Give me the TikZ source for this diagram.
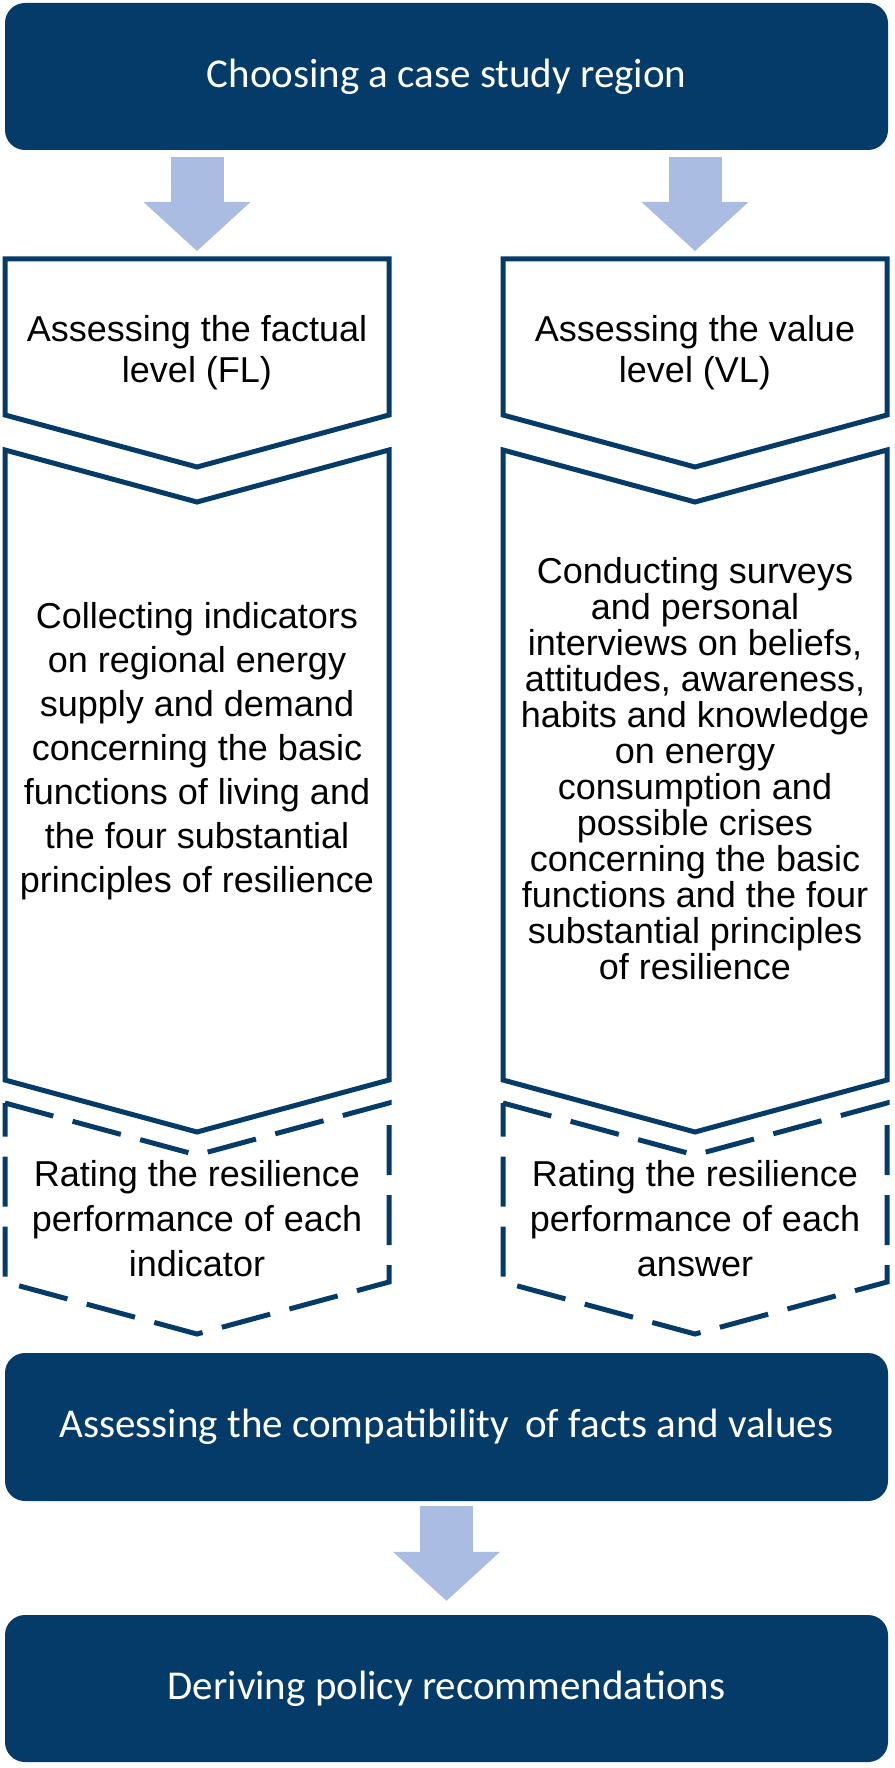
\documentclass[tikz,border=0pt]{standalone}
\usepackage{fontspec}
\setmainfont{Liberation Sans}
\newfontfamily\boxfont{Carlito}
\usetikzlibrary{arrows.meta,calc}
\definecolor{DeepNavy}{HTML}{043B69}
\definecolor{PaleBlue}{HTML}{AABCE1}

\begin{document}
\begin{tikzpicture}[x=1pt, y=-1pt,
  stagebox/.style={fill=DeepNavy, rounded corners=20pt, minimum width=883pt, minimum height=147pt, text=white, font=\boxfont\fontsize{41}{49}\selectfont},
  steptext/.style={align=center, text=black, font=\fontsize{36}{41}\selectfont},
  chev/.style={draw=DeepNavy, line width=5pt},
  chevdash/.style={chev, dash pattern=on 50pt off 20pt},
  bigarrow/.style={color=PaleBlue, line width=53pt, -{Triangle[length=49pt, width=107pt, line width=0pt]}}]
  \useasboundingbox (0,0) rectangle (894,1768);

  % top and bottom stages
  \node[stagebox] (case) at (446.5,76.5) {Choosing a case study region};
  \node[stagebox, minimum height=148pt] (compat) at (446.5,1427) {Assessing the compatibility\, of facts and values};
  \node[stagebox] (policy) at (446.5,1688.5) {Deriving policy recommendations};

  % factual level column
  \draw[chev] (5,259) -- (389,259) -- (389,415) -- (197,467) -- (5,415) -- cycle;
  \draw[chev] (5,450) -- (197,502) -- (389,450) -- (389,1080) -- (197,1132) -- (5,1080) -- cycle;
  \draw[chevdash] (5,1103) -- (197,1155) -- (389,1103) -- (389,1282) -- (197,1334) -- (5,1282) -- cycle;
  \coordinate (flTop) at (197,259);
  \node[steptext] (flhead) at (197,353) {Assessing the factual\\level (FL)};
  \node[steptext, font=\fontsize{36}{44}\selectfont] (flcollect) at (197,751) {Collecting indicators\\on regional energy\\supply and demand\\concerning the basic\\functions of living and\\the four substantial\\principles of resilience};
  \node[steptext, font=\fontsize{36}{45}\selectfont] (flrate) at (197,1219) {Rating the resilience\\performance of each\\indicator};

  % value level column
  \draw[chev] (503,259) -- (887,259) -- (887,415) -- (695,467) -- (503,415) -- cycle;
  \draw[chev] (503,450) -- (695,502) -- (887,450) -- (887,1080) -- (695,1132) -- (503,1080) -- cycle;
  \draw[chevdash] (503,1103) -- (695,1155) -- (887,1103) -- (887,1282) -- (695,1334) -- (503,1282) -- cycle;
  \coordinate (vlTop) at (695,259);
  \node[steptext] (vlhead) at (695,353) {Assessing the value\\level (VL)};
  \node[steptext, font=\fontsize{36}{36}\selectfont] (vlsurvey) at (695,769) {Conducting surveys\\and personal\\interviews on beliefs,\\attitudes, awareness,\\habits and knowledge\\on energy\\consumption and\\possible crises\\concerning the basic\\functions and the four\\substantial principles\\of resilience};
  \node[steptext, font=\fontsize{36}{45}\selectfont] (vlrate) at (695,1219) {Rating the resilience\\performance of each\\answer};

  % block arrows
  \draw[bigarrow] ([yshift=-7pt]case.south -| flTop) -- ([yshift=8pt]flTop);
  \draw[bigarrow] ([yshift=-7pt]case.south -| vlTop) -- ([yshift=8pt]vlTop);
  \draw[bigarrow] ([yshift=-5pt]compat.south) -- ([yshift=14pt]policy.north);
\end{tikzpicture}
\end{document}
